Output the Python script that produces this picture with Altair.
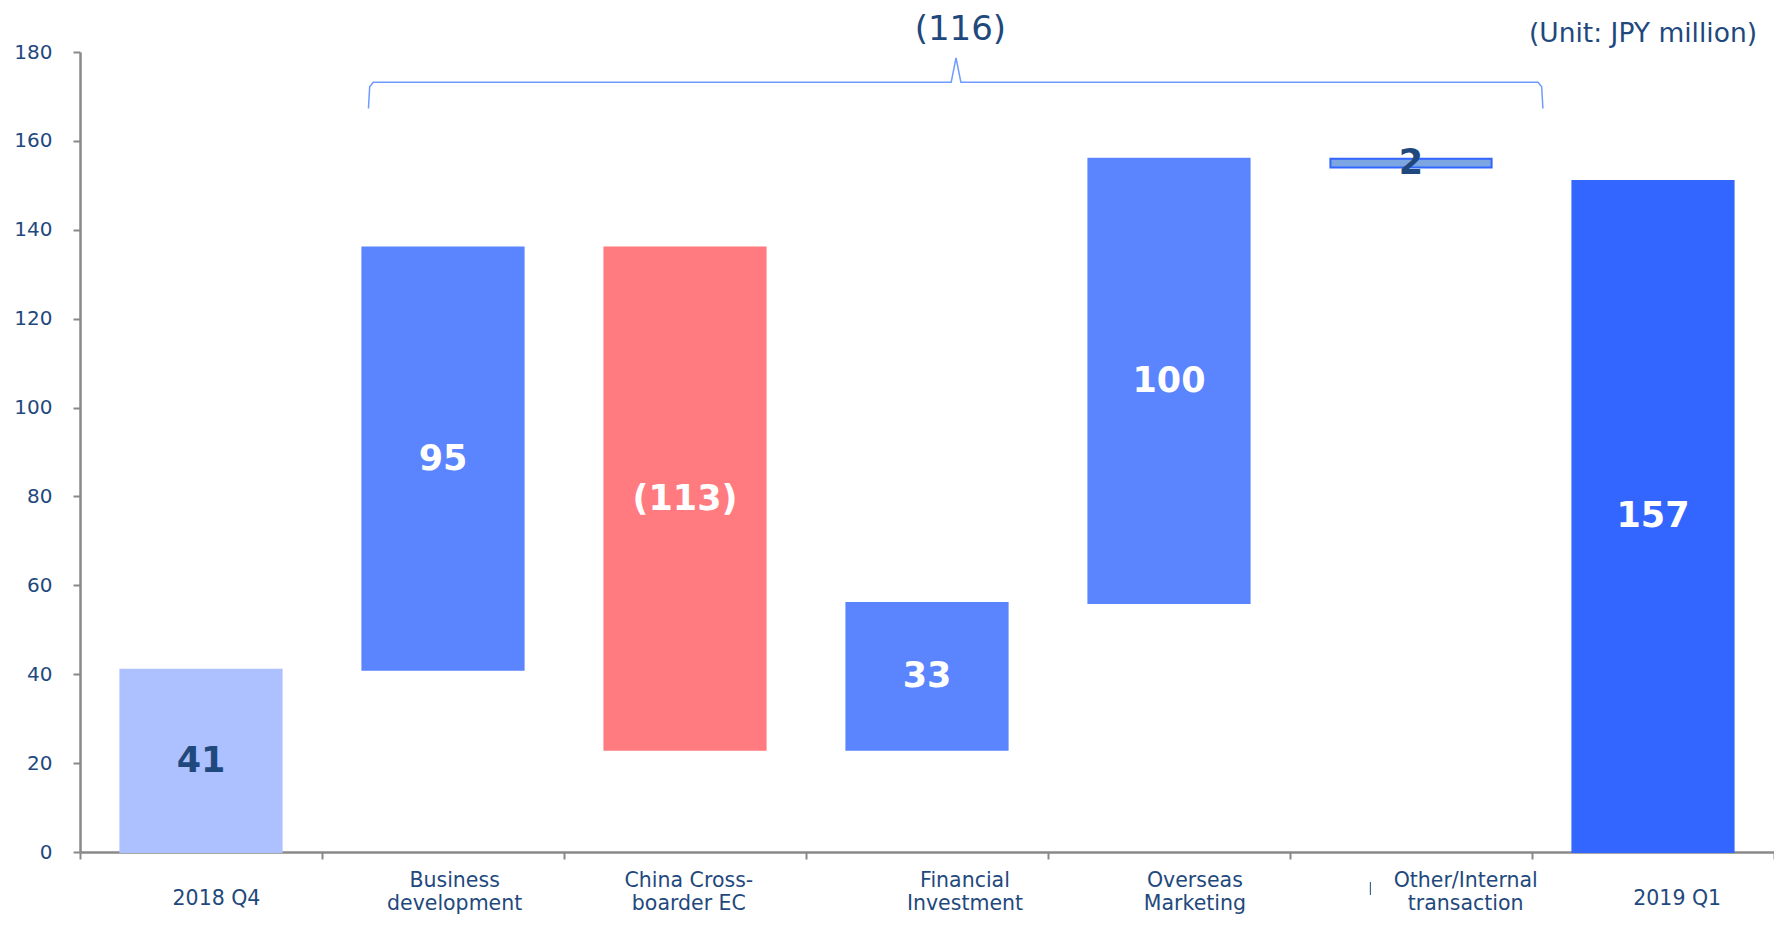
import altair as alt
import pandas as pd

# ---- data ----
categories = ["2018 Q4", "Business development", "China Cross-boarder EC",
              "Financial Investment", "Overseas Marketing",
              "Other/Internal transaction", "2019 Q1"]
axis_labels = ["2018 Q4", "Business\ndevelopment", "China Cross-\nboarder EC",
               "Financial\nInvestment", "Overseas\nMarketing",
               "Other/Internal\ntransaction", "2019 Q1"]
bar_start = [0, 41, 136, 23, 56, 154, 0]
bar_end = [41, 136, 23, 56, 156, 156, 151]
value_labels = ["41", "95", "(113)", "33", "100", "2", "157"]
kinds = ["start", "increase", "decrease", "increase", "increase", "other", "end"]
y_ticks = [0, 20, 40, 60, 80, 100, 120, 140, 160, 180]
bracket_label = "(116)"
unit_label = "(Unit: JPY million)"

# layout nudges for the category captions (in category units)
label_nudge = [0.064, 0.048, 0.016, 0.157, 0.107, 0.226, 0.10]

NAVY = "#1F497D"
GRAY = "#898989"
FONT = "DejaVu Sans"

kind_domain = ["start", "increase", "decrease", "other", "end"]
kind_fill = ["#ADC0FF", "#5B84FF", "#FF7B80", "#7BA6E2", "#3366FF"]
kind_stroke = ["#ADC0FF", "#5B84FF", "#FF7B80", "#3366FF", "#3366FF"]
kind_text = ["#1F497D", "#FFFFFF", "#FFFFFF", "#1F497D", "#FFFFFF"]

df = pd.DataFrame({
    "idx": list(range(len(categories))),
    "category": categories,
    "caption": axis_labels,
    "start": bar_start,
    "end": bar_end,
    "label": value_labels,
    "kind": kinds,
    "nudge": label_nudge,
})

xscale = alt.Scale(domain=[0, 7], nice=False, zero=False)
yscale = alt.Scale(domain=[0, 180], nice=False, zero=True)

base = alt.Chart(df).transform_calculate(
    x0="datum.idx + 0.167",
    x1="datum.idx + 0.833",
    xc="datum.idx + 0.5",
    lx="datum.idx + 0.5 + datum.nudge",
    mid="(datum.start + datum.end) / 2",
)

bars = base.mark_bar(strokeWidth=2).encode(
    x=alt.X("x0:Q", scale=xscale,
            axis=alt.Axis(values=list(range(8)), labels=False, ticks=True,
                          tickSize=7, tickWidth=2, tickColor=GRAY,
                          domainColor=GRAY, domainWidth=2.5, grid=False,
                          title=None)),
    x2="x1:Q",
    y=alt.Y("start:Q", scale=yscale,
            axis=alt.Axis(values=y_ticks, tickSize=7, tickWidth=2,
                          tickColor=GRAY, domainColor=GRAY, domainWidth=2.5,
                          labelFont=FONT, labelFontSize=20, labelColor=NAVY,
                          labelPadding=21, grid=False, title=None)),
    y2="end:Q",
    fill=alt.Fill("kind:N", scale=alt.Scale(domain=kind_domain, range=kind_fill),
                  legend=None),
    stroke=alt.Stroke("kind:N", scale=alt.Scale(domain=kind_domain, range=kind_stroke),
                      legend=None),
)

value_text = base.mark_text(font=FONT, fontSize=35, fontWeight="bold",
                            baseline="middle", align="center").encode(
    x=alt.X("xc:Q", scale=xscale),
    y=alt.Y("mid:Q", scale=yscale),
    text="label:N",
    color=alt.Color("kind:N", scale=alt.Scale(domain=kind_domain, range=kind_text),
                    legend=None),
)

caption_style = dict(font=FONT, fontSize=20.5, color=NAVY, align="center",
                     baseline="middle", lineBreak="\n", lineHeight=23)

captions_one = base.transform_filter(
    "indexof(datum.caption, '\\n') < 0"
).mark_text(**caption_style).encode(
    x=alt.X("lx:Q", scale=xscale),
    y=alt.value(847),
    text="caption:N",
)

captions_two = base.transform_filter(
    "indexof(datum.caption, '\\n') >= 0"
).mark_text(**caption_style).encode(
    x=alt.X("lx:Q", scale=xscale),
    y=alt.value(829),
    text="caption:N",
)

# bracket over the contribution bars
brace_x = [1.192, 1.197, 1.212, 3.600, 3.620, 3.640, 6.025, 6.040, 6.045]
brace_y = [167.3, 172.2, 173.2, 173.2, 178.7, 173.2, 173.2, 172.2, 167.3]
brace_df = pd.DataFrame({"bx": brace_x, "by": brace_y, "o": list(range(len(brace_x)))})
brace = alt.Chart(brace_df).mark_line(color="#6F9BFF", strokeWidth=1.5).encode(
    x=alt.X("bx:Q", scale=xscale),
    y=alt.Y("by:Q", scale=yscale),
    order="o:Q",
)

ann_df = pd.DataFrame({"t": [bracket_label], "ax": [3.638]})
bracket_text = alt.Chart(ann_df).mark_text(font=FONT, fontSize=34, color=NAVY,
                                           align="center", baseline="middle").encode(
    x=alt.X("ax:Q", scale=xscale),
    y=alt.value(-22),
    text="t:N",
)

unit_df = pd.DataFrame({"t": [unit_label], "ax": [6.93]})
unit_text = alt.Chart(unit_df).mark_text(font=FONT, fontSize=26.5, color=NAVY,
                                         align="right", baseline="middle").encode(
    x=alt.X("ax:Q", scale=xscale),
    y=alt.value(-18),
    text="t:N",
)

stray_df = pd.DataFrame({"sx": [5.332]})
stray = alt.Chart(stray_df).mark_rule(color=NAVY, strokeWidth=1).encode(
    x=alt.X("sx:Q", scale=xscale),
    y=alt.value(830),
    y2=alt.value(843),
)

chart = alt.layer(
    bars, value_text, captions_one, captions_two, brace, bracket_text, unit_text, stray
).properties(
    width=1694,
    height=800,
    background="white",
    autosize=alt.AutoSizeParams(type="none"),
    padding={"left": 72, "top": 44, "right": 0, "bottom": 66},
).configure_view(stroke=None)

chart.save("out.html", embed_options={"renderer": "svg", "actions": False})
